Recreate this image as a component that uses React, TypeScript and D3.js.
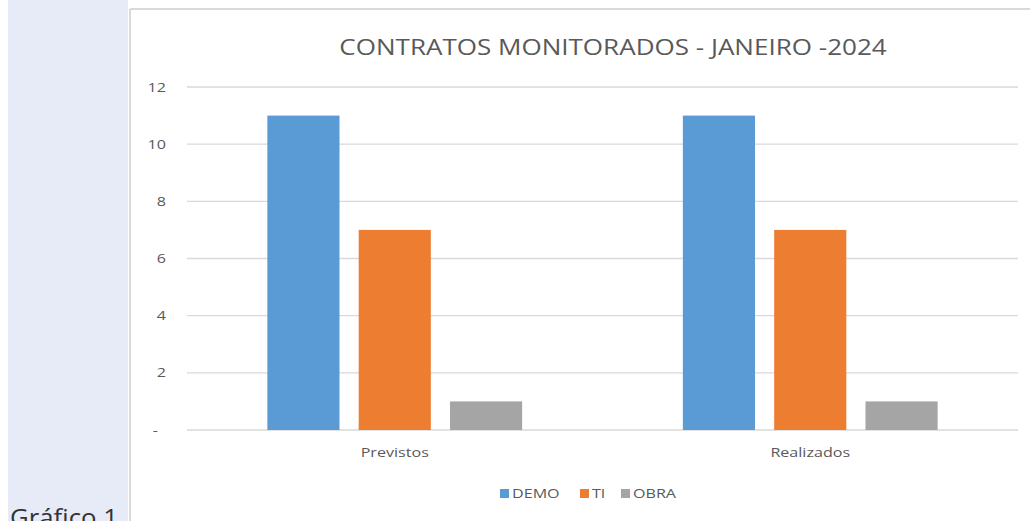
import React from "react";
import * as d3 from "d3";

// chart data
const categories = ["Previstos", "Realizados"];
const seriesNames = ["DEMO", "TI", "OBRA"];
const demoValues = [11, 11];
const tiValues = [7, 7];
const obraValues = [1, 1];
const yTicks = [0, 2, 4, 6, 8, 10, 12];
const colors = ["#5B9BD5", "#ED7D31", "#A5A5A5"];

const title = "CONTRATOS MONITORADOS - JANEIRO -2024";

// the source chart image is stretched horizontally, so text gets a scaleX too
const SX = 1.24;

const App = () => {
  const W = 1030;
  const H = 521;
  // plot area
  const plot = { left: 187, right: 1018, top: 87, bottom: 430 };

  const x0 = d3.scaleBand().domain(categories).range([plot.left, plot.right]);
  const x1 = d3
    .scaleBand()
    .domain(seriesNames)
    .range([0, x0.bandwidth()])
    .paddingInner(0.21)
    .paddingOuter(0.88);
  const y = d3.scaleLinear().domain([0, 12]).range([plot.bottom, plot.top]);

  const series = [demoValues, tiValues, obraValues];
  const font = "'Open Sans', 'Noto Sans', sans-serif";

  const at = (px: number, py: number, s = SX) =>
    `translate(${px},${py}) scale(${s},1)`;

  // legend layout
  const legendItems = [
    { name: "DEMO", x: 500 },
    { name: "TI", x: 580 },
    { name: "OBRA", x: 621 },
  ];

  return (
    <svg
      width={W}
      height={H}
      style={{ position: "absolute", left: 0, top: 0, fontFamily: font }}
    >
      <rect x={0} y={0} width={W} height={H} fill="#ffffff" />
      {/* left side panel */}
      <rect x={8} y={0} width={120} height={H} fill="#e7eaf7" />
      {/* chart frame */}
      <line x1={130} y1={9} x2={W} y2={9} stroke="#d9d9d9" strokeWidth={2} />
      <line x1={130} y1={9} x2={130} y2={H} stroke="#d9d9d9" strokeWidth={2} />

      <text
        transform={at(613, 55)}
        textAnchor="middle"
        fontSize={21}
        fill="#595959"
      >
        {title}
      </text>

      {/* gridlines + y labels */}
      {yTicks.map((t) => (
        <g key={t}>
          <line
            x1={plot.left}
            x2={plot.right}
            y1={y(t)}
            y2={y(t)}
            stroke="#d9d9d9"
            strokeWidth={1.3}
          />
          <text
            transform={at(t === 0 ? 158 : 166, y(t) + 4.5)}
            textAnchor="end"
            fontSize={13}
            fill="#595959"
          >
            {t === 0 ? "-" : t}
          </text>
        </g>
      ))}

      {/* bars */}
      {categories.map((c, i) => (
        <g key={c} transform={`translate(${x0(c)},0)`}>
          {seriesNames.map((s, j) => (
            <rect
              key={s}
              x={x1(s)}
              y={y(series[j][i])}
              width={x1.bandwidth()}
              height={y(0) - y(series[j][i])}
              fill={colors[j]}
            />
          ))}
          <text
            transform={at(x0.bandwidth() / 2, 457)}
            textAnchor="middle"
            fontSize={13}
            fill="#595959"
          >
            {c}
          </text>
        </g>
      ))}

      {/* legend */}
      {legendItems.map((l, i) => (
        <g key={l.name} transform={`translate(${l.x},0)`}>
          <rect x={0} y={489} width={9} height={9} fill={colors[i]} />
          <text transform={at(12, 498)} fontSize={13} fill="#595959">
            {l.name}
          </text>
        </g>
      ))}

      <text transform={at(10, 526, 1.12)} fontSize={23} fill="#333333">
        Gráfico 1
      </text>
    </svg>
  );
};

export default App;
